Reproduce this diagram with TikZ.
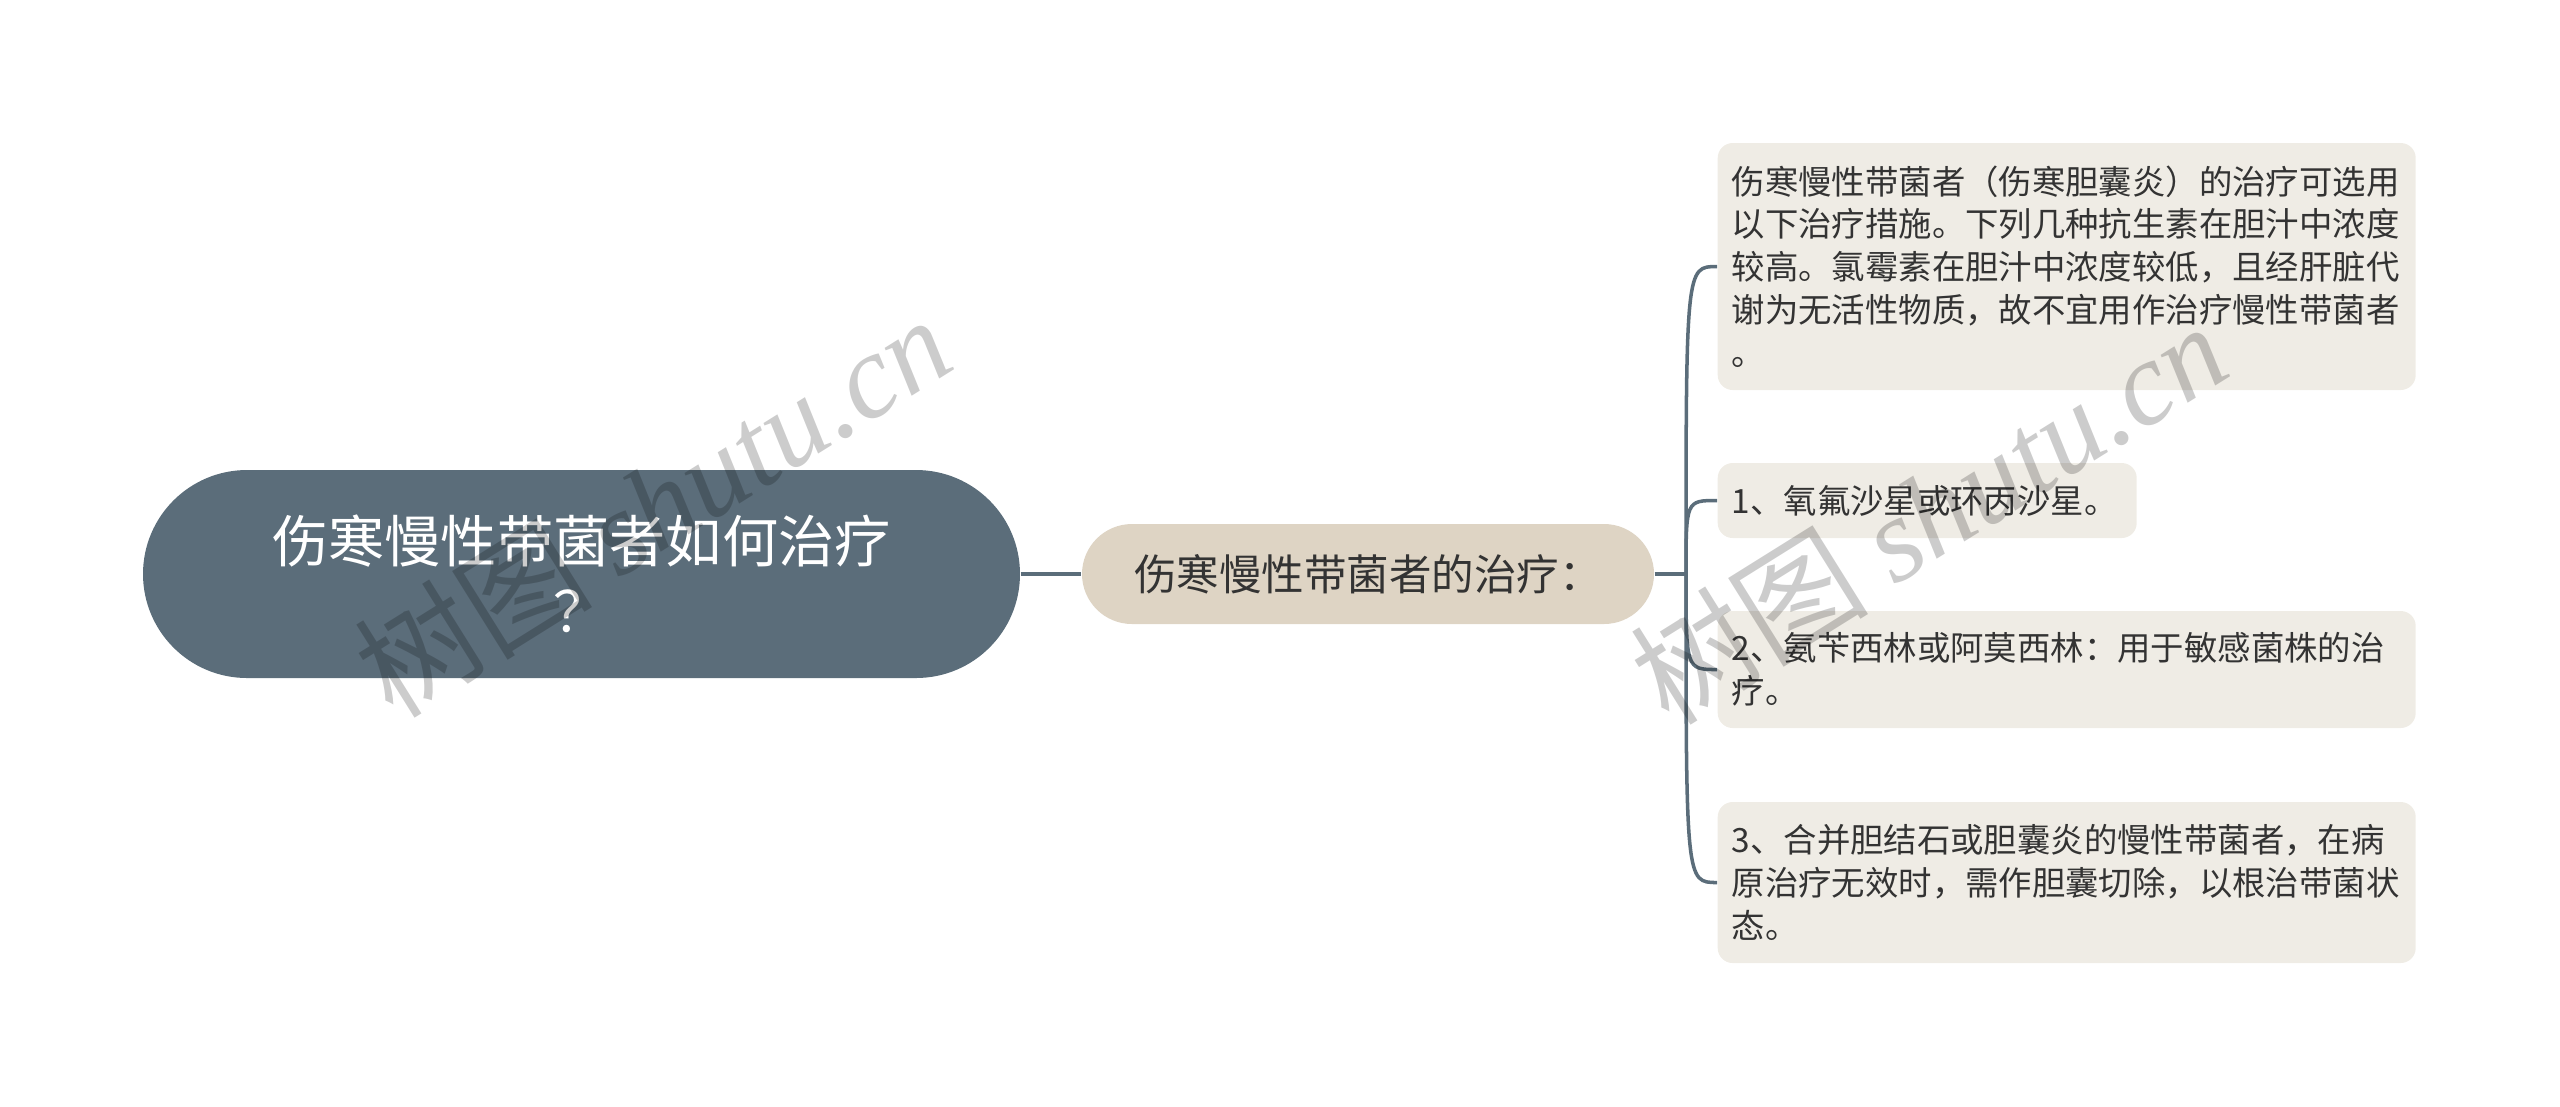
\documentclass[tikz,border=0pt]{standalone}
\usepackage{fontspec}
\setmainfont{Noto Sans CJK SC}
\newfontfamily\wmlatin{Liberation Serif}
\usepackage{xcolor}
\usepackage{tikz}
\usetikzlibrary{shapes.misc}

\definecolor{rootfill}{HTML}{5B6D7A}
\definecolor{midfill}{HTML}{DED4C4}
\definecolor{leaffill}{HTML}{EFECE5}
\definecolor{linkcol}{HTML}{5B6D7A}
\definecolor{txtcol}{HTML}{333333}

\tikzset{
	link/.style={draw=linkcol,line width=1pt},
	rootbox/.style={shape=rounded rectangle,fill=rootfill,text=white,inner xsep=0pt,
		minimum width=87.7mm,minimum height=20.8mm,align=center,
		font=\fontsize{16}{19.9}\selectfont},
	midbox/.style={shape=rounded rectangle,fill=midfill,text=txtcol,inner xsep=0pt,
		minimum width=57.2mm,minimum height=10mm,font=\fontsize{12.1}{14}\selectfont},
	leafbox/.style={rectangle,rounded corners=1.5mm,fill=leaffill,text=txtcol,anchor=west,
		inner xsep=1.4mm,align=left,font=\fontsize{9.5}{12.2}\selectfont},
	wmtext/.style={text=black,text opacity=0.2,rotate=32,font=\fontsize{34}{34}\selectfont}
}

\begin{document}
\begin{tikzpicture}[x=0.1mm,y=-0.1mm]
	\useasboundingbox (0,0) rectangle (2560,1106);
	
	\node[rootbox] (root) at (581.5,574) {伤寒慢性带菌者如何治疗\\？};
	\node[midbox] (mid) at (1368,574) {伤寒慢性带菌者的治疗：};
	
	\node[leafbox,text width=67mm,minimum height=24.7mm] (l1) at (1717,266.5) {伤寒慢性带菌者（伤寒胆囊炎）的治疗可选用\\以下治疗措施。下列几种抗生素在胆汁中浓度\\较高。氯霉素在胆汁中浓度较低，且经肝脏代\\谢为无活性物质，故不宜用作治疗慢性带菌者\\。};
	\node[leafbox,text width=39.1mm,minimum height=7.5mm] (l2) at (1717,500.5) {1、氧氟沙星或环丙沙星。};
	\node[leafbox,text width=67mm,minimum height=11.7mm] (l3) at (1717,669.5) {2、氨苄西林或阿莫西林：用于敏感菌株的治\\疗。};
	\node[leafbox,text width=67mm,minimum height=16.1mm] (l4) at (1717,882.5) {3、合并胆结石或胆囊炎的慢性带菌者，在病\\原治疗无效时，需作胆囊切除，以根治带菌状\\态。};
	
	\coordinate (hub) at (1686,574);
	\draw[link] (root.east) -- (mid.west);
	\draw[link] (mid.east) -- (hub);
	\foreach \leaf in {l1,l2,l3,l4}
		\draw[link] (hub) .. controls (hub |- \leaf.west) .. (\leaf.west);
	
	\node[wmtext] (wm1) at (652,505) {树图 {\wmlatin\itshape shutu.cn}};
	\node[wmtext] (wm2) at (1928,512) {树图 {\wmlatin\itshape shutu.cn}};
\end{tikzpicture}
\end{document}
